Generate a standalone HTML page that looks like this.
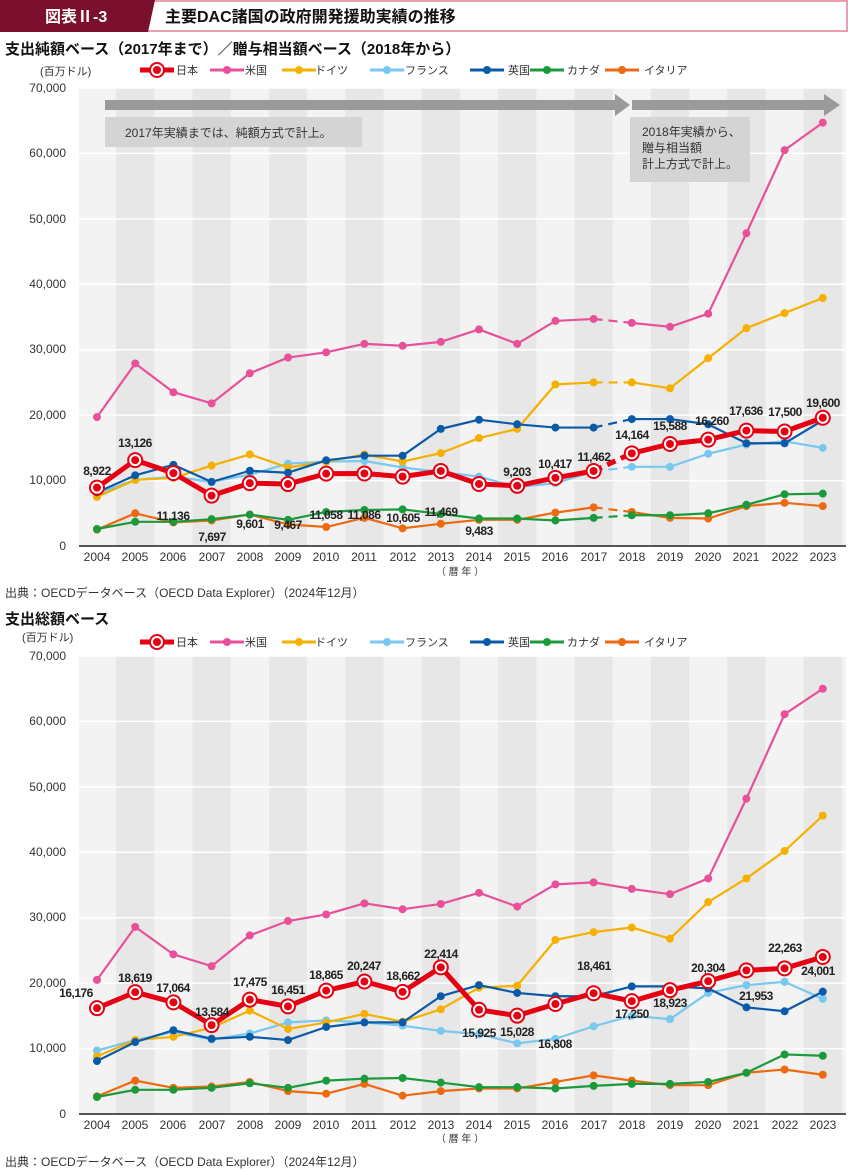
<!DOCTYPE html>
<html><head><meta charset="utf-8"><style>
body{margin:0;background:#fff;width:848px;height:1172px;overflow:hidden;font-family:"Liberation Sans","Noto Sans CJK JP",sans-serif}
svg{display:block}
text{font-family:"Liberation Sans","Noto Sans CJK JP",sans-serif}
.ax{font-size:12px;fill:#333}
.lb{font-size:12px;font-weight:bold;fill:#222;text-anchor:middle;letter-spacing:-0.5px}
</style></head><body>
<svg id="s" width="848" height="1172" xmlns="http://www.w3.org/2000/svg">
<rect x="0" y="0" width="848" height="32" fill="#fff"/>
<line x1="0" y1="1" x2="848" y2="1" stroke="#e8a0b0" stroke-width="2"/>
<line x1="0" y1="31" x2="848" y2="31" stroke="#e8a0b0" stroke-width="2"/>
<line x1="847" y1="0" x2="847" y2="32" stroke="#e8a0b0" stroke-width="2"/>
<polygon points="0,0 155,0 148,32 0,32" fill="#7a0f2e"/>
<text x="45" y="22" font-size="16" fill="#fff" font-weight="bold">図表Ⅱ-3</text>
<text x="165" y="22" font-size="16" fill="#111" font-weight="bold">主要DAC諸国の政府開発援助実績の推移</text>
<text x="5" y="54" font-size="15" fill="#111" font-weight="bold">支出純額ベース（2017年まで）／贈与相当額ベース（2018年から）</text>
<text x="40" y="75" font-size="11" fill="#333">(百万ドル)</text>
<g id="c1"></g>
<g id="c2"></g>
<text x="5" y="597" font-size="12" fill="#333">出典：OECDデータベース（OECD Data Explorer）（2024年12月）</text>
<text x="5" y="624" font-size="15" fill="#111" font-weight="bold">支出総額ベース</text>
<text x="22" y="641" font-size="11" fill="#333">(百万ドル)</text>
<text x="5" y="1166" font-size="12" fill="#333">出典：OECDデータベース（OECD Data Explorer）（2024年12月）</text>

<!-- legends -->
<g id="lg1" transform="translate(0,70)"></g>
<g id="lg2" transform="translate(0,642)"></g>
<g font-size="11" fill="#333">
<text x="176" y="74">日本</text><text x="245" y="74">米国</text><text x="315" y="74">ドイツ</text><text x="405" y="74">フランス</text><text x="508" y="74">英国</text><text x="567" y="74">カナダ</text><text x="644" y="74">イタリア</text>
<text x="176" y="646">日本</text><text x="245" y="646">米国</text><text x="315" y="646">ドイツ</text><text x="405" y="646">フランス</text><text x="508" y="646">英国</text><text x="567" y="646">カナダ</text><text x="644" y="646">イタリア</text>
</g>

<!-- y labels chart1 -->
<g class="ax" text-anchor="end">
<text x="66" y="92">70,000</text><text x="66" y="157">60,000</text><text x="66" y="223">50,000</text><text x="66" y="288">40,000</text><text x="66" y="353">30,000</text><text x="66" y="419">20,000</text><text x="66" y="484">10,000</text><text x="66" y="550">0</text>
<text x="66" y="660">70,000</text><text x="66" y="725">60,000</text><text x="66" y="791">50,000</text><text x="66" y="856">40,000</text><text x="66" y="921">30,000</text><text x="66" y="987">20,000</text><text x="66" y="1052">10,000</text><text x="66" y="1118">0</text>
</g>
<g class="ax" text-anchor="middle">
<text x="97" y="561">2004</text><text x="135" y="561">2005</text><text x="173" y="561">2006</text><text x="212" y="561">2007</text><text x="250" y="561">2008</text><text x="288" y="561">2009</text><text x="326" y="561">2010</text><text x="364" y="561">2011</text><text x="403" y="561">2012</text><text x="441" y="561">2013</text><text x="479" y="561">2014</text><text x="517" y="561">2015</text><text x="555" y="561">2016</text><text x="594" y="561">2017</text><text x="632" y="561">2018</text><text x="670" y="561">2019</text><text x="708" y="561">2020</text><text x="746" y="561">2021</text><text x="785" y="561">2022</text><text x="823" y="561">2023</text>
<text x="460" y="575" font-size="10">（ 暦 年 ）</text>
<text x="97" y="1129">2004</text><text x="135" y="1129">2005</text><text x="173" y="1129">2006</text><text x="212" y="1129">2007</text><text x="250" y="1129">2008</text><text x="288" y="1129">2009</text><text x="326" y="1129">2010</text><text x="364" y="1129">2011</text><text x="403" y="1129">2012</text><text x="441" y="1129">2013</text><text x="479" y="1129">2014</text><text x="517" y="1129">2015</text><text x="555" y="1129">2016</text><text x="594" y="1129">2017</text><text x="632" y="1129">2018</text><text x="670" y="1129">2019</text><text x="708" y="1129">2020</text><text x="746" y="1129">2021</text><text x="785" y="1129">2022</text><text x="823" y="1129">2023</text>
<text x="460" y="1142" font-size="10">（ 暦 年 ）</text>
</g>

<!-- annotations chart1 -->
<g id="ann">
<rect x="105" y="100" width="515" height="10" fill="#9a9a9a"/>
<polygon points="615,94 630,105 615,116" fill="#9a9a9a"/>
<rect x="632" y="100" width="195" height="10" fill="#9a9a9a"/>
<polygon points="824,94 840,105 824,116" fill="#9a9a9a"/>
<rect x="105" y="117" width="257" height="30" fill="#d4d4d4"/>
<text x="125" y="137" font-size="12" fill="#333">2017年実績までは、純額方式で計上。</text>
<rect x="630" y="117" width="120" height="65" fill="#d4d4d4"/>
<text x="642" y="136" font-size="12" fill="#333">2018年実績から、</text>
<text x="642" y="152" font-size="12" fill="#333">贈与相当額</text>
<text x="642" y="168" font-size="12" fill="#333">計上方式で計上。</text>
</g>

<!-- labels chart1 -->
<g class="lb">
<text x="97" y="475">8,922</text><text x="135" y="447">13,126</text><text x="173" y="520">11,136</text><text x="212" y="541">7,697</text><text x="250" y="528">9,601</text><text x="288" y="529">9,467</text><text x="326" y="519">11,058</text><text x="364" y="519">11,086</text><text x="403" y="522">10,605</text><text x="441" y="516">11,469</text><text x="479" y="535">9,483</text><text x="517" y="476">9,203</text><text x="555" y="468">10,417</text><text x="594" y="461">11,462</text><text x="632" y="439">14,164</text><text x="670" y="430">15,588</text><text x="712" y="425">16,260</text><text x="746" y="415">17,636</text><text x="785" y="416">17,500</text><text x="823" y="407">19,600</text>
</g>
<g class="lb">
<text x="76" y="997">16,176</text><text x="135" y="982">18,619</text><text x="173" y="992">17,064</text><text x="212" y="1016">13,584</text><text x="250" y="986">17,475</text><text x="288" y="994">16,451</text><text x="326" y="979">18,865</text><text x="364" y="970">20,247</text><text x="403" y="980">18,662</text><text x="441" y="958">22,414</text><text x="479" y="1037">15,925</text><text x="517" y="1036">15,028</text><text x="555" y="1048">16,808</text><text x="594" y="970">18,461</text><text x="632" y="1018">17,250</text><text x="670" y="1007">18,923</text><text x="708" y="972">20,304</text><text x="756" y="1000">21,953</text><text x="785" y="952">22,263</text><text x="818" y="975">24,001</text>
</g>
</svg>
<script>
const NS="http://www.w3.org/2000/svg";
function el(p,t,a){const e=document.createElementNS(NS,t);for(const k in a)e.setAttribute(k,a[k]);p.appendChild(e);return e;}
const X=i=>97+i*38.2;
const cols={jp:"#e60012",us:"#e8509a",de:"#f5b000",fr:"#78c8f0",uk:"#0a5aa8",ca:"#1a9a3a",it:"#ee6a10"};
const d1={
us:[19700,27900,23500,21800,26400,28800,29600,30900,30600,31200,33100,30900,34400,34700,34100,33500,35500,47800,60500,64700],
de:[7500,10100,10400,12300,14000,12000,12900,14000,12900,14200,16500,17900,24700,25000,25000,24100,28700,33300,35600,37900],
fr:[8000,10100,10600,9800,10900,12600,12900,13000,12000,11300,10600,9000,9600,11400,12100,12100,14100,15500,16000,15000],
uk:[8200,10800,12400,9800,11500,11200,13100,13800,13800,17900,19300,18600,18100,18100,19400,19400,18600,15700,15700,19200],
ca:[2600,3700,3700,4100,4800,4000,5200,5500,5600,4900,4200,4200,3900,4300,4700,4700,5000,6300,7900,8000],
it:[2500,5000,3600,3900,4800,3300,2900,4300,2700,3400,4000,4000,5100,5900,5200,4300,4200,6100,6600,6100],
jp:[8922,13126,11136,7697,9601,9467,11058,11086,10605,11469,9483,9203,10417,11462,14164,15588,16260,17636,17500,19600]};
const d2={
us:[20500,28600,24400,22600,27300,29500,30500,32200,31300,32100,33800,31700,35100,35400,34400,33600,36000,48200,61100,65000],
de:[8800,11300,11800,13200,15800,13000,14000,15300,14100,16000,19300,19600,26600,27800,28500,26800,32400,36000,40200,45600],
fr:[9700,11300,12500,11400,12300,14000,14300,14000,13500,12700,12200,10800,11500,13400,15000,14500,18500,19700,20200,17600],
uk:[8100,11000,12800,11500,11800,11300,13300,14000,14000,18000,19700,18500,18000,18000,19500,19500,19200,16300,15700,18700],
ca:[2600,3700,3700,4000,4700,4000,5100,5400,5500,4800,4100,4100,3900,4300,4600,4600,4900,6300,9100,8900],
it:[2700,5100,4000,4200,4900,3500,3100,4600,2800,3500,3900,3900,4900,5900,5100,4400,4400,6300,6800,6000],
jp:[16176,18619,17064,13584,17475,16451,18865,20247,18662,22414,15925,15028,16808,18461,17250,18923,20304,21953,22263,24001]};
function chart(g,top,zero,data,split){
 const Y=v=>zero-v*0.006543;
 el(g,"rect",{x:79,y:top,width:767,height:zero-top,fill:"#f3f3f3"});
 for(let i=1;i<20;i+=2)el(g,"rect",{x:X(i)-19.1,y:top,width:38.2,height:zero-top,fill:"#e7e7e7"});
 for(let v=10000;v<=70000;v+=10000)el(g,"line",{x1:79,x2:846,y1:Y(v),y2:Y(v),stroke:"#fff","stroke-width":1.5});
 el(g,"line",{x1:79,x2:846,y1:zero,y2:zero,stroke:"#555","stroke-width":2});
 for(const k of ["it","ca","fr","de","uk","us","jp"]){
  const v=data[k],c=cols[k],w=k=="jp"?5:2.2;
  const seg=(a,b)=>v.slice(a,b+1).map((d,j)=>X(a+j)+","+Y(d)).join(" ");
  if(split){
   el(g,"polyline",{points:seg(0,13),fill:"none",stroke:c,"stroke-width":w,"stroke-linejoin":"round"});
   el(g,"polyline",{points:seg(14,19),fill:"none",stroke:c,"stroke-width":w,"stroke-linejoin":"round"});
   el(g,"polyline",{points:seg(13,14),fill:"none",stroke:c,"stroke-width":w,"stroke-dasharray":"9,6"});
  } else el(g,"polyline",{points:seg(0,19),fill:"none",stroke:c,"stroke-width":w,"stroke-linejoin":"round"});
  v.forEach((d,i)=>{
   if(k=="jp"){el(g,"circle",{cx:X(i),cy:Y(d),r:8,fill:c});el(g,"circle",{cx:X(i),cy:Y(d),r:6,fill:"#fff"});el(g,"circle",{cx:X(i),cy:Y(d),r:4,fill:c});}
   else el(g,"circle",{cx:X(i),cy:Y(d),r:4,fill:c});
  });
 }
}
const s=document.getElementById("s");
chart(document.getElementById("c1"),88,546,d1,true);
chart(document.getElementById("c2"),656,1114,d2,false);
s.appendChild(document.getElementById("ann"));
for(const g of document.querySelectorAll(".lb"))s.appendChild(g);
function legend(g){
 const xs=[[140,"jp"],[210,"us"],[282,"de"],[370,"fr"],[470,"uk"],[530,"ca"],[605,"it"]];
 for(const [x,k] of xs){
  el(g,"line",{x1:x,x2:x+34,y1:0,y2:0,stroke:cols[k],"stroke-width":k=="jp"?5:3});
  if(k=="jp"){el(g,"circle",{cx:x+17,cy:0,r:8,fill:cols[k]});el(g,"circle",{cx:x+17,cy:0,r:6,fill:"#fff"});el(g,"circle",{cx:x+17,cy:0,r:4,fill:cols[k]});}
  else el(g,"circle",{cx:x+17,cy:0,r:4,fill:cols[k]});
 }
}
legend(document.getElementById("lg1"));legend(document.getElementById("lg2"));
</script>
</body></html>
